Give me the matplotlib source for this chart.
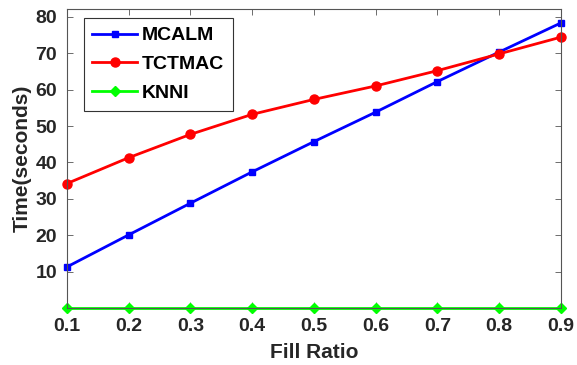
import matplotlib.pyplot as plt

# Data
fill_ratio = [0.1, 0.2, 0.3, 0.4, 0.5, 0.6, 0.7, 0.8, 0.9]
mcalm = [11.3, 20.1, 28.8, 37.4, 45.7, 53.8, 62.2, 70.3, 78.3]
tctmac = [34.2, 41.3, 47.7, 53.2, 57.3, 61.0, 65.2, 69.8, 74.4]
knni = [0.1, 0.1, 0.1, 0.1, 0.1, 0.1, 0.1, 0.1, 0.1]

plt.rcParams['font.family'] = ['Liberation Sans', 'DejaVu Sans']
plt.rcParams['font.weight'] = 'bold'

fig = plt.figure(figsize=(5.77, 3.65), dpi=100)
ax = fig.add_axes([0.116, 0.156, 0.856, 0.818])

ax.plot(fill_ratio, mcalm, color='#0000ff', marker='s', markersize=5, linewidth=2, label='MCALM', clip_on=False)
ax.plot(fill_ratio, tctmac, color='#ff0000', marker='o', markersize=6.5, linewidth=2, label='TCTMAC', clip_on=False)
ax.plot(fill_ratio, knni, color='#00ff00', marker='D', markersize=5.5, linewidth=2, label='KNNI', clip_on=False)

ax.set_xlim(0.1, 0.9)
ax.set_ylim(0, 82)
ax.set_xticks(fill_ratio)
ax.set_xticklabels(['%.1f' % v for v in fill_ratio])
ax.set_yticks([10, 20, 30, 40, 50, 60, 70, 80])

tc = '#262626'
ax.tick_params(direction='in', length=4, width=0.6, colors='#555555', labelcolor=tc,
               labelsize=14, top=True, right=True, pad=7)
for lbl in ax.get_xticklabels() + ax.get_yticklabels():
    lbl.set_fontweight('bold')
for s in ax.spines.values():
    s.set_color('#555555')
    s.set_linewidth(0.8)

ax.set_xlabel('Fill Ratio', fontsize=15, fontweight='bold', color=tc, labelpad=6)
ax.set_ylabel('Time(seconds)', fontsize=15, fontweight='bold', color=tc, labelpad=3)

leg = ax.legend(loc='upper left', bbox_to_anchor=(0.034, 0.9715), fontsize=14, handlelength=2.3,
                handletextpad=0.25, borderpad=0.45, borderaxespad=0, labelspacing=0.58,
                fancybox=False, edgecolor='#333333', framealpha=1)
leg.get_frame().set_linewidth(0.8)
for t in leg.get_texts():
    t.set_fontweight('bold')
    t.set_color('black')

fig.savefig('out.png', dpi=100)
